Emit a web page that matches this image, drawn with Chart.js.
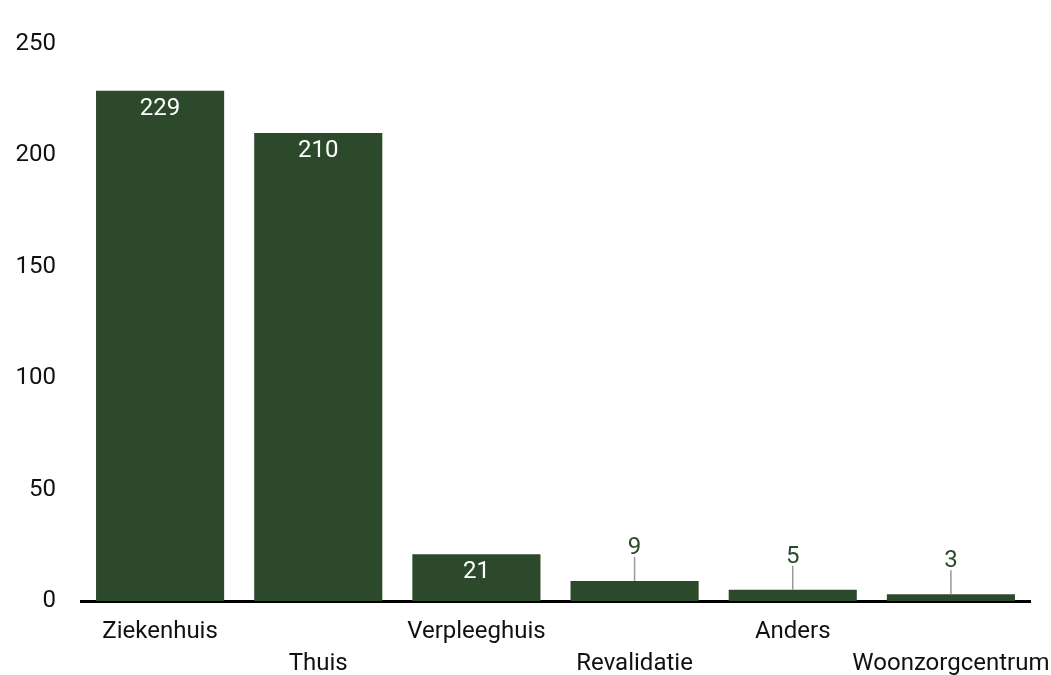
<!DOCTYPE html>
<html>
<head>
<meta charset="utf-8">
<script src="https://cdn.jsdelivr.net/npm/chart.js@4"></script>
<style>
  html, body { margin: 0; padding: 0; background: #fff; }
  #wrap { width: 1051px; height: 675px; }
</style>
</head>
<body>
<div id="wrap"><canvas id="grafiek"></canvas></div>
<script>
// data
const plaatsen = ["Ziekenhuis", "Thuis", "Verpleeghuis", "Revalidatie", "Anders", "Woonzorgcentrum"];
const aantallen = [229, 210, 21, 9, 5, 3];
const yTicks = [0, 50, 100, 150, 200, 250];

const groen = '#2c4a2b';
const fontFam = 'Roboto, "Noto Sans", sans-serif';

// labels op de balken, klein = erboven met streepje
const waardeLabels = {
  id: 'waardeLabels',
  afterDatasetsDraw(chart) {
    const ctx = chart.ctx;
    const meta = chart.getDatasetMeta(0);
    ctx.save();
    ctx.font = '24px ' + fontFam;
    ctx.textAlign = 'center';
    ctx.textBaseline = 'middle';
    meta.data.forEach((bar, i) => {
      const h = bar.base - bar.y;
      if (h > 40) {
        ctx.fillStyle = '#ffffff';
        ctx.fillText(aantallen[i], bar.x, bar.y + 18);
      } else {
        ctx.strokeStyle = '#999999';
        ctx.lineWidth = 1.5;
        ctx.beginPath();
        ctx.moveTo(bar.x, bar.y);
        ctx.lineTo(bar.x, bar.y - 24);
        ctx.stroke();
        ctx.fillStyle = groen;
        ctx.fillText(aantallen[i], bar.x, bar.y - 33);
      }
    });
    ctx.restore();
  }
};

new Chart(document.getElementById('grafiek'), {
  type: 'bar',
  data: {
    labels: plaatsen,
    datasets: [{
      data: aantallen,
      backgroundColor: groen,
      categoryPercentage: 1,
      barPercentage: 0.81
    }]
  },
  options: {
    responsive: true,
    maintainAspectRatio: false,
    animation: false,
    layout: { padding: { top: 44, right: 21, left: 0, bottom: 0 } },
    plugins: { legend: { display: false }, tooltip: { enabled: false } },
    scales: {
      x: {
        grid: { display: false, drawTicks: false },
        border: { display: true, color: '#000', width: 3 },
        ticks: {
          color: '#111',
          font: { family: fontFam, size: 24, lineHeight: 1.33 },
          maxRotation: 0,
          autoSkip: false,
          padding: 15,
          callback: function (v, i) {
            return i % 2 === 1 ? ['', plaatsen[i]] : plaatsen[i];
          }
        },
        afterFit: (s) => { s.height = 74; s.paddingLeft = 0; s.paddingRight = 0; }
      },
      y: {
        min: 0,
        max: 250,
        afterBuildTicks: (axis) => { axis.ticks = yTicks.map(v => ({ value: v })); },
        grid: { display: false, drawTicks: false },
        border: { display: false },
        ticks: {
          color: '#111',
          font: { family: fontFam, size: 24 },
          padding: 25
        },
        afterFit: (s) => { s.width = 81; s.paddingTop = 0; s.paddingBottom = 0; }
      }
    }
  },
  plugins: [waardeLabels]
});
</script>
</body>
</html>
